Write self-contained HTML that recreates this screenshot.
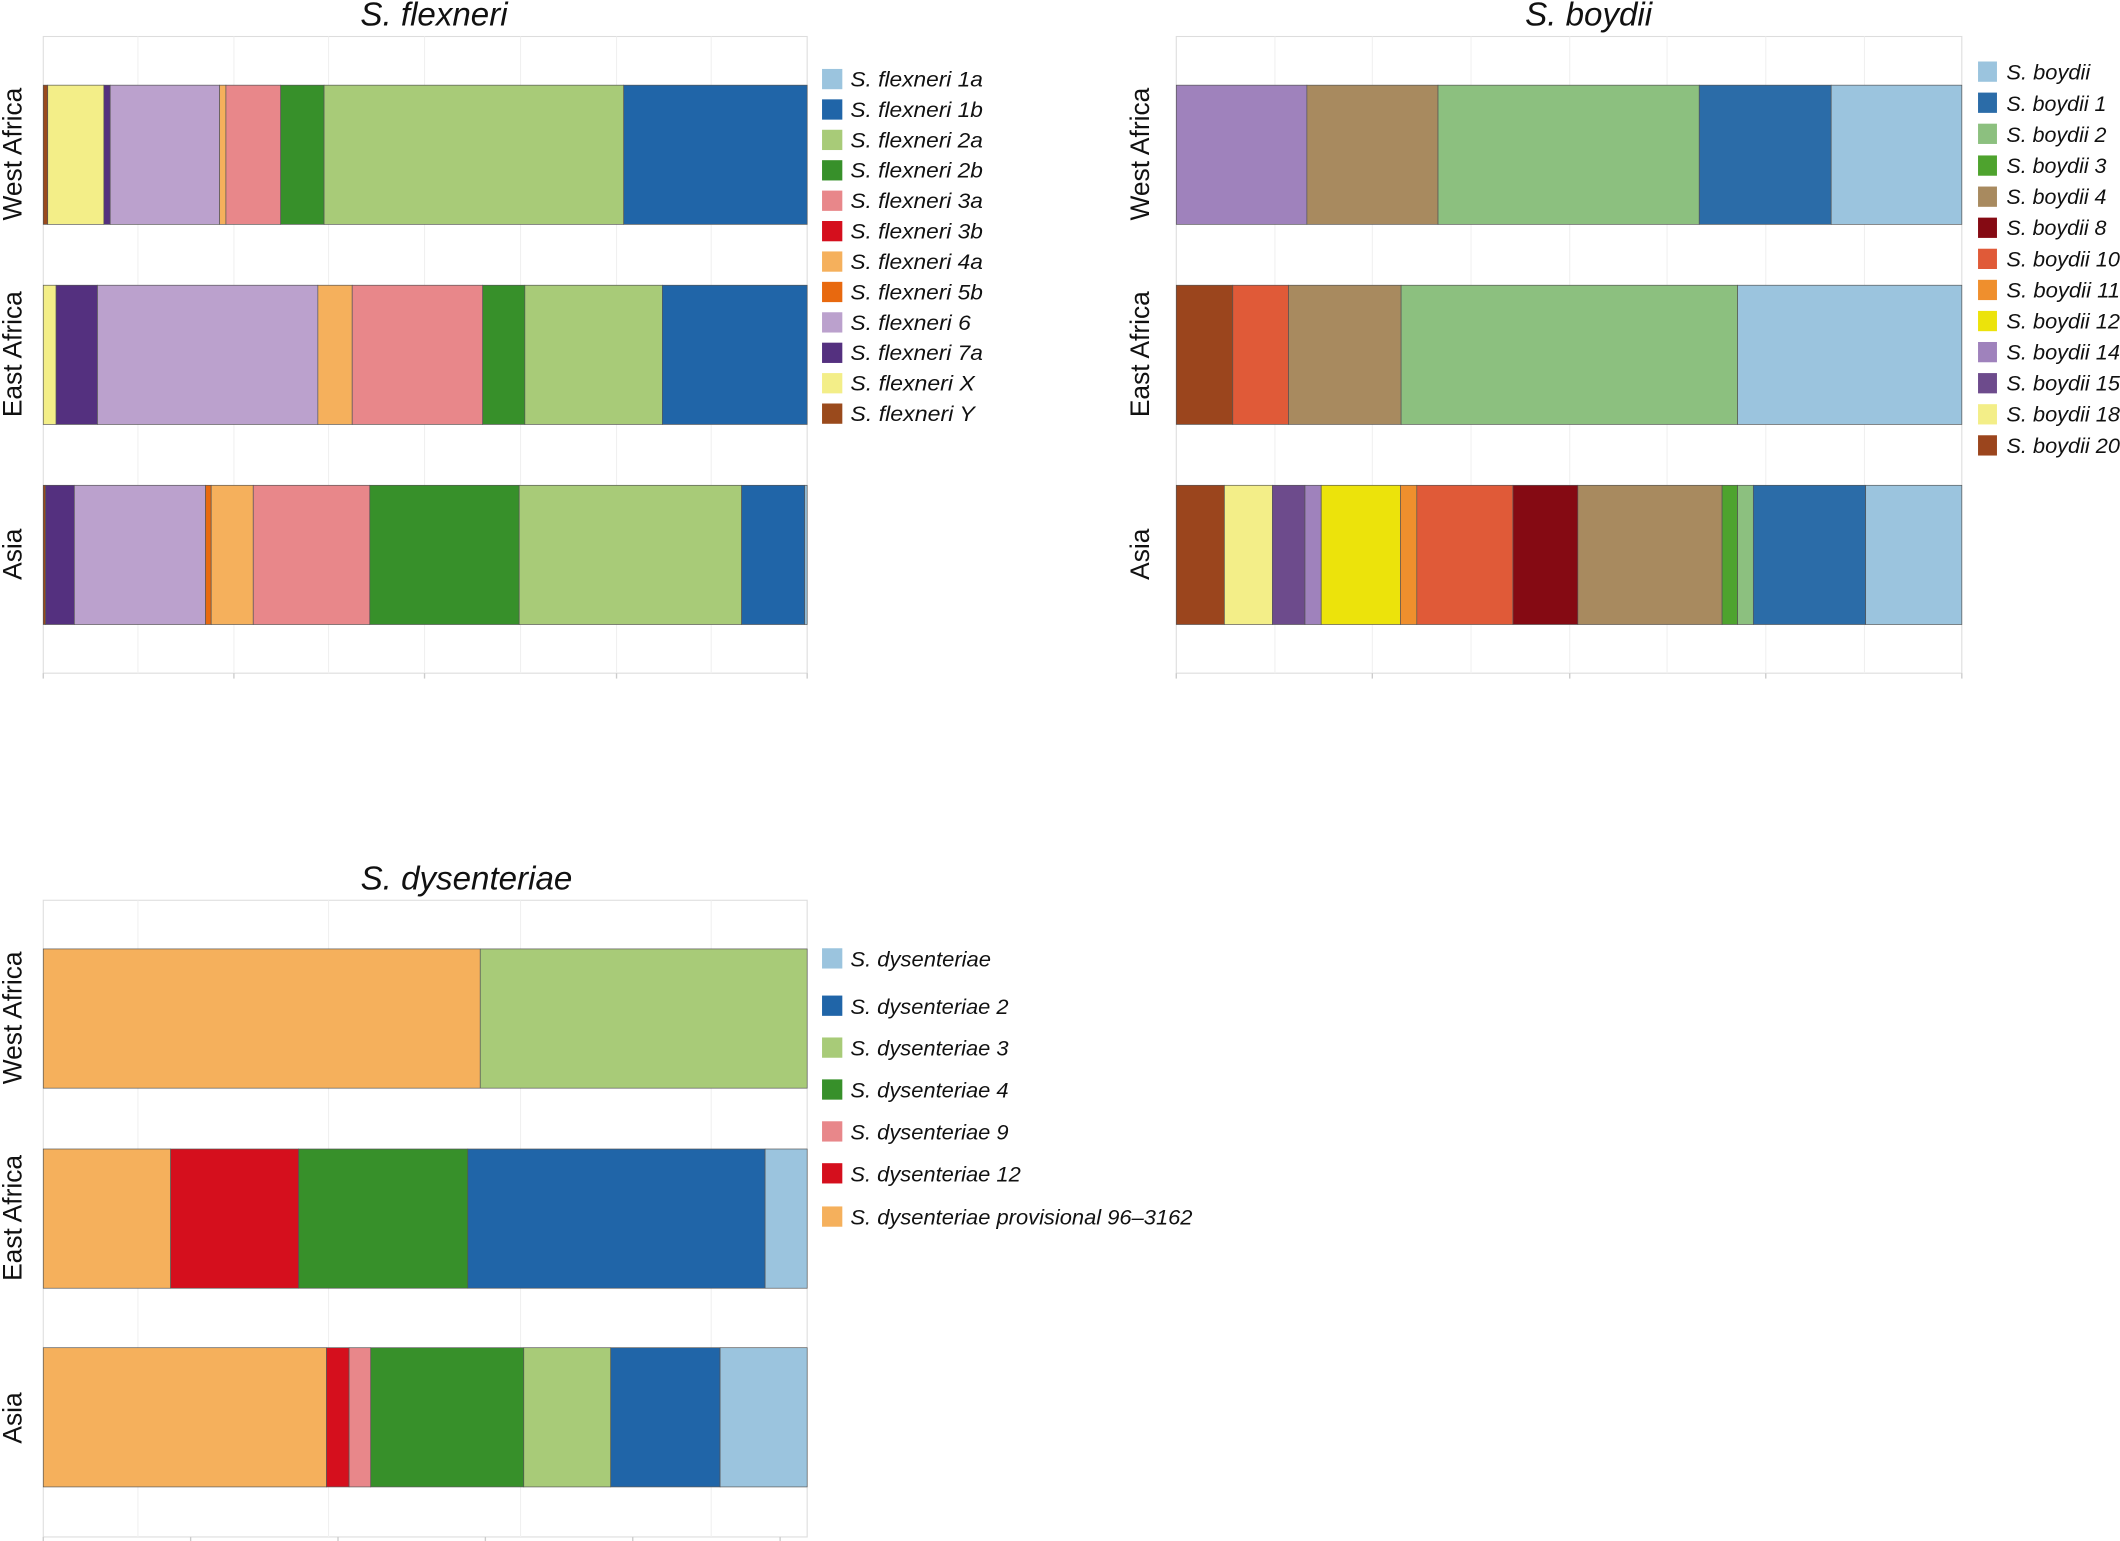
<!DOCTYPE html>
<html><head><meta charset="utf-8"><style>
html,body{margin:0;padding:0;background:#fff;}
svg{display:block;}
text{font-family:"Liberation Sans",sans-serif;fill:#111;}
.t{font-style:italic;font-size:24.5px;}
.l{font-style:italic;font-size:16px;}
.y{font-size:19.5px;}
.b rect{stroke:#555;stroke-width:0.5;}
</style></head><body>
<svg width="2120" height="1541" viewBox="0 0 1568 1140" preserveAspectRatio="none" xmlns="http://www.w3.org/2000/svg">
<rect width="1568" height="1140" fill="#fff"/>

<!-- ===== S. flexneri ===== -->
<text class="t" x="321" y="19" text-anchor="middle">S. flexneri</text>
<rect x="32" y="27" width="565" height="471" fill="#fff" stroke="#ddd" stroke-width="0.8"/>
<g stroke="#f0f0f0" stroke-width="0.8">
<line x1="102" y1="27" x2="102" y2="498"/><line x1="173" y1="27" x2="173" y2="498"/><line x1="243" y1="27" x2="243" y2="498"/><line x1="314" y1="27" x2="314" y2="498"/><line x1="385" y1="27" x2="385" y2="498"/><line x1="456" y1="27" x2="456" y2="498"/><line x1="526" y1="27" x2="526" y2="498"/>
</g>
<g stroke="#ccc" stroke-width="1"><line x1="32" y1="498" x2="32" y2="502"/><line x1="173" y1="498" x2="173" y2="502"/><line x1="314" y1="498" x2="314" y2="502"/><line x1="456" y1="498" x2="456" y2="502"/><line x1="597" y1="498" x2="597" y2="502"/></g>
<g class="b">
<rect x="32" y="63" width="3.3" height="103" fill="#9a4a1c"/>
<rect x="35.3" y="63" width="41.5" height="103" fill="#f3ee88"/>
<rect x="76.8" y="63" width="4.7" height="103" fill="#54307f"/>
<rect x="81.5" y="63" width="80.9" height="103" fill="#bba1cd"/>
<rect x="162.4" y="63" width="4.7" height="103" fill="#f5b05c"/>
<rect x="167.1" y="63" width="40.5" height="103" fill="#e8878a"/>
<rect x="207.6" y="63" width="32.1" height="103" fill="#37902a"/>
<rect x="239.7" y="63" width="221.6" height="103" fill="#a8cb78"/>
<rect x="461.3" y="63" width="135.7" height="103" fill="#2065a8"/>

<rect x="32" y="211" width="9.5" height="103" fill="#f3ee88"/>
<rect x="41.5" y="211" width="30.6" height="103" fill="#54307f"/>
<rect x="72.1" y="211" width="163" height="103" fill="#bba1cd"/>
<rect x="235.1" y="211" width="25.4" height="103" fill="#f5b05c"/>
<rect x="260.5" y="211" width="96.5" height="103" fill="#e8878a"/>
<rect x="357" y="211" width="31.2" height="103" fill="#37902a"/>
<rect x="388.2" y="211" width="101.7" height="103" fill="#a8cb78"/>
<rect x="489.9" y="211" width="107.1" height="103" fill="#2065a8"/>

<rect x="32" y="359" width="1.7" height="103" fill="#9a4a1c"/>
<rect x="33.7" y="359" width="21.3" height="103" fill="#54307f"/>
<rect x="55" y="359" width="97" height="103" fill="#bba1cd"/>
<rect x="152" y="359" width="4.2" height="103" fill="#e8690f"/>
<rect x="156.2" y="359" width="31.1" height="103" fill="#f5b05c"/>
<rect x="187.3" y="359" width="86.2" height="103" fill="#e8878a"/>
<rect x="273.5" y="359" width="110.5" height="103" fill="#37902a"/>
<rect x="384" y="359" width="164.5" height="103" fill="#a8cb78"/>
<rect x="548.5" y="359" width="46.7" height="103" fill="#2065a8"/>
<rect x="595.2" y="359" width="1.8" height="103" fill="#9bc4de"/>
</g>
<text class="y" transform="translate(16,114) rotate(-90)" text-anchor="middle">West Africa</text>
<text class="y" transform="translate(16,262) rotate(-90)" text-anchor="middle">East Africa</text>
<text class="y" transform="translate(16,410) rotate(-90)" text-anchor="middle">Asia</text>

<g>
<rect x="608" y="51" width="15" height="15" fill="#9bc4de"/><text class="l" x="629" y="64" textLength="98" lengthAdjust="spacingAndGlyphs">S.  flexneri 1a</text>
<rect x="608" y="73.5" width="15" height="15" fill="#2065a8"/><text class="l" x="629" y="86.5" textLength="98" lengthAdjust="spacingAndGlyphs">S.  flexneri 1b</text>
<rect x="608" y="96" width="15" height="15" fill="#a8cb78"/><text class="l" x="629" y="109" textLength="98" lengthAdjust="spacingAndGlyphs">S.  flexneri 2a</text>
<rect x="608" y="118.5" width="15" height="15" fill="#37902a"/><text class="l" x="629" y="131.5" textLength="98" lengthAdjust="spacingAndGlyphs">S.  flexneri 2b</text>
<rect x="608" y="141" width="15" height="15" fill="#e8878a"/><text class="l" x="629" y="154" textLength="98" lengthAdjust="spacingAndGlyphs">S.  flexneri 3a</text>
<rect x="608" y="163.5" width="15" height="15" fill="#d50f1d"/><text class="l" x="629" y="176.5" textLength="98" lengthAdjust="spacingAndGlyphs">S.  flexneri 3b</text>
<rect x="608" y="186" width="15" height="15" fill="#f5b05c"/><text class="l" x="629" y="199" textLength="98" lengthAdjust="spacingAndGlyphs">S.  flexneri 4a</text>
<rect x="608" y="208.5" width="15" height="15" fill="#e8690f"/><text class="l" x="629" y="221.5" textLength="98" lengthAdjust="spacingAndGlyphs">S.  flexneri 5b</text>
<rect x="608" y="231" width="15" height="15" fill="#bba1cd"/><text class="l" x="629" y="244" textLength="89" lengthAdjust="spacingAndGlyphs">S.  flexneri 6</text>
<rect x="608" y="253.5" width="15" height="15" fill="#54307f"/><text class="l" x="629" y="266.5" textLength="98" lengthAdjust="spacingAndGlyphs">S.  flexneri 7a</text>
<rect x="608" y="276" width="15" height="15" fill="#f3ee88"/><text class="l" x="629" y="289" textLength="92" lengthAdjust="spacingAndGlyphs">S.  flexneri X</text>
<rect x="608" y="298.5" width="15" height="15" fill="#9a4a1c"/><text class="l" x="629" y="311.5" textLength="92" lengthAdjust="spacingAndGlyphs">S.  flexneri Y</text>
</g>

<!-- ===== S. boydii ===== -->
<text class="t" x="1175" y="19" text-anchor="middle">S. boydii</text>
<rect x="870" y="27" width="581" height="471" fill="#fff" stroke="#ddd" stroke-width="0.8"/>
<g stroke="#f0f0f0" stroke-width="0.8">
<line x1="943" y1="27" x2="943" y2="498"/><line x1="1015" y1="27" x2="1015" y2="498"/><line x1="1088" y1="27" x2="1088" y2="498"/><line x1="1161" y1="27" x2="1161" y2="498"/><line x1="1233" y1="27" x2="1233" y2="498"/><line x1="1306" y1="27" x2="1306" y2="498"/><line x1="1379" y1="27" x2="1379" y2="498"/>
</g>
<g stroke="#ccc" stroke-width="1"><line x1="870" y1="498" x2="870" y2="502"/><line x1="1015" y1="498" x2="1015" y2="502"/><line x1="1161" y1="498" x2="1161" y2="502"/><line x1="1306" y1="498" x2="1306" y2="502"/><line x1="1451" y1="498" x2="1451" y2="502"/></g>
<g class="b">
<rect x="870" y="63" width="96.6" height="103" fill="#9f82bc"/>
<rect x="966.6" y="63" width="97" height="103" fill="#a88a5f"/>
<rect x="1063.6" y="63" width="193.2" height="103" fill="#8cc07f"/>
<rect x="1256.8" y="63" width="97.6" height="103" fill="#2b6ca8"/>
<rect x="1354.4" y="63" width="96.6" height="103" fill="#9bc4de"/>

<rect x="870" y="211" width="41.8" height="103" fill="#9b451d"/>
<rect x="911.8" y="211" width="41.3" height="103" fill="#e05a38"/>
<rect x="953.1" y="211" width="83.2" height="103" fill="#a88a5f"/>
<rect x="1036.3" y="211" width="248.9" height="103" fill="#8cc07f"/>
<rect x="1285.2" y="211" width="165.8" height="103" fill="#9bc4de"/>

<rect x="870" y="359" width="35.6" height="103" fill="#9b451d"/>
<rect x="905.6" y="359" width="35.5" height="103" fill="#f3ee88"/>
<rect x="941.1" y="359" width="24.1" height="103" fill="#6d4b8c"/>
<rect x="965.2" y="359" width="12" height="103" fill="#9f82bc"/>
<rect x="977.2" y="359" width="58.6" height="103" fill="#ece30b"/>
<rect x="1035.8" y="359" width="12.1" height="103" fill="#ef8f2d"/>
<rect x="1047.9" y="359" width="71.1" height="103" fill="#e05a38"/>
<rect x="1119" y="359" width="48" height="103" fill="#850a13"/>
<rect x="1167" y="359" width="106.7" height="103" fill="#a88a5f"/>
<rect x="1273.7" y="359" width="11.5" height="103" fill="#4ea32e"/>
<rect x="1285.2" y="359" width="11.6" height="103" fill="#8cc07f"/>
<rect x="1296.8" y="359" width="83.1" height="103" fill="#2b6ca8"/>
<rect x="1379.9" y="359" width="71.1" height="103" fill="#9bc4de"/>
</g>
<text class="y" transform="translate(850,114) rotate(-90)" text-anchor="middle">West Africa</text>
<text class="y" transform="translate(850,262) rotate(-90)" text-anchor="middle">East Africa</text>
<text class="y" transform="translate(850,410) rotate(-90)" text-anchor="middle">Asia</text>

<g>
<rect x="1463" y="45.5" width="14" height="15" fill="#9bc4de"/><text class="l" x="1484" y="59" textLength="62" lengthAdjust="spacingAndGlyphs">S. boydii</text>
<rect x="1463" y="68.5" width="14" height="15" fill="#2b6ca8"/><text class="l" x="1484" y="82" textLength="74" lengthAdjust="spacingAndGlyphs">S. boydii 1</text>
<rect x="1463" y="91.5" width="14" height="15" fill="#8cc07f"/><text class="l" x="1484" y="105" textLength="74" lengthAdjust="spacingAndGlyphs">S. boydii 2</text>
<rect x="1463" y="115" width="14" height="15" fill="#4ea32e"/><text class="l" x="1484" y="128" textLength="74" lengthAdjust="spacingAndGlyphs">S. boydii 3</text>
<rect x="1463" y="138" width="14" height="15" fill="#a88a5f"/><text class="l" x="1484" y="151" textLength="74" lengthAdjust="spacingAndGlyphs">S. boydii 4</text>
<rect x="1463" y="161" width="14" height="15" fill="#850a13"/><text class="l" x="1484" y="174" textLength="74" lengthAdjust="spacingAndGlyphs">S. boydii 8</text>
<rect x="1463" y="184" width="14" height="15" fill="#e05a38"/><text class="l" x="1484" y="197" textLength="84" lengthAdjust="spacingAndGlyphs">S. boydii 10</text>
<rect x="1463" y="207" width="14" height="15" fill="#ef8f2d"/><text class="l" x="1484" y="220" textLength="84" lengthAdjust="spacingAndGlyphs">S. boydii 11</text>
<rect x="1463" y="230" width="14" height="15" fill="#ece30b"/><text class="l" x="1484" y="243" textLength="84" lengthAdjust="spacingAndGlyphs">S. boydii 12</text>
<rect x="1463" y="253" width="14" height="15" fill="#9f82bc"/><text class="l" x="1484" y="266" textLength="84" lengthAdjust="spacingAndGlyphs">S. boydii 14</text>
<rect x="1463" y="276" width="14" height="15" fill="#6d4b8c"/><text class="l" x="1484" y="289" textLength="84" lengthAdjust="spacingAndGlyphs">S. boydii 15</text>
<rect x="1463" y="299" width="14" height="15" fill="#f3ee88"/><text class="l" x="1484" y="312" textLength="84" lengthAdjust="spacingAndGlyphs">S. boydii 18</text>
<rect x="1463" y="322" width="14" height="15" fill="#9b451d"/><text class="l" x="1484" y="335" textLength="84" lengthAdjust="spacingAndGlyphs">S. boydii 20</text>
</g>

<!-- ===== S. dysenteriae ===== -->
<text class="t" x="345" y="658" text-anchor="middle">S. dysenteriae</text>
<rect x="32" y="666" width="565" height="471" fill="#fff" stroke="#ddd" stroke-width="0.8"/>
<g stroke="#f0f0f0" stroke-width="0.8">
<line x1="102" y1="666" x2="102" y2="1137"/><line x1="243" y1="666" x2="243" y2="1137"/><line x1="385" y1="666" x2="385" y2="1137"/><line x1="526" y1="666" x2="526" y2="1137"/>
</g>
<g stroke="#ccc" stroke-width="1"><line x1="32" y1="1137" x2="32" y2="1140"/><line x1="141" y1="1137" x2="141" y2="1140"/><line x1="250" y1="1137" x2="250" y2="1140"/><line x1="359" y1="1137" x2="359" y2="1140"/><line x1="468" y1="1137" x2="468" y2="1140"/><line x1="577" y1="1137" x2="577" y2="1140"/></g>
<g class="b">
<rect x="32" y="702" width="323.2" height="103" fill="#f5b05c"/>
<rect x="355.2" y="702" width="241.8" height="103" fill="#a8cb78"/>

<rect x="32" y="850" width="94.2" height="103" fill="#f5b05c"/>
<rect x="126.2" y="850" width="94.7" height="103" fill="#d50f1d"/>
<rect x="220.9" y="850" width="125.1" height="103" fill="#37902a"/>
<rect x="346" y="850" width="219.9" height="103" fill="#2065a8"/>
<rect x="565.9" y="850" width="31.1" height="103" fill="#9bc4de"/>

<rect x="32" y="997" width="209.5" height="103" fill="#f5b05c"/>
<rect x="241.5" y="997" width="16.7" height="103" fill="#d50f1d"/>
<rect x="258.2" y="997" width="16" height="103" fill="#e8878a"/>
<rect x="274.2" y="997" width="113.2" height="103" fill="#37902a"/>
<rect x="387.4" y="997" width="64.3" height="103" fill="#a8cb78"/>
<rect x="451.7" y="997" width="80.9" height="103" fill="#2065a8"/>
<rect x="532.6" y="997" width="64.4" height="103" fill="#9bc4de"/>
</g>
<text class="y" transform="translate(16,753) rotate(-90)" text-anchor="middle">West Africa</text>
<text class="y" transform="translate(16,901) rotate(-90)" text-anchor="middle">East Africa</text>
<text class="y" transform="translate(16,1049) rotate(-90)" text-anchor="middle">Asia</text>

<g>
<rect x="608" y="701.5" width="15" height="15" fill="#9bc4de"/><text class="l" x="629" y="715" textLength="104" lengthAdjust="spacingAndGlyphs">S. dysenteriae</text>
<rect x="608" y="736.5" width="15" height="15" fill="#2065a8"/><text class="l" x="629" y="750" textLength="117" lengthAdjust="spacingAndGlyphs">S. dysenteriae 2</text>
<rect x="608" y="767.5" width="15" height="15" fill="#a8cb78"/><text class="l" x="629" y="781" textLength="117" lengthAdjust="spacingAndGlyphs">S. dysenteriae 3</text>
<rect x="608" y="798.5" width="15" height="15" fill="#37902a"/><text class="l" x="629" y="812" textLength="117" lengthAdjust="spacingAndGlyphs">S. dysenteriae 4</text>
<rect x="608" y="829.5" width="15" height="15" fill="#e8878a"/><text class="l" x="629" y="843" textLength="117" lengthAdjust="spacingAndGlyphs">S. dysenteriae 9</text>
<rect x="608" y="860.5" width="15" height="15" fill="#d50f1d"/><text class="l" x="629" y="874" textLength="126" lengthAdjust="spacingAndGlyphs">S. dysenteriae 12</text>
<rect x="608" y="892.5" width="15" height="15" fill="#f5b05c"/><text class="l" x="629" y="906" textLength="253" lengthAdjust="spacingAndGlyphs">S. dysenteriae provisional 96–3162</text>
</g>
</svg>
</body></html>
